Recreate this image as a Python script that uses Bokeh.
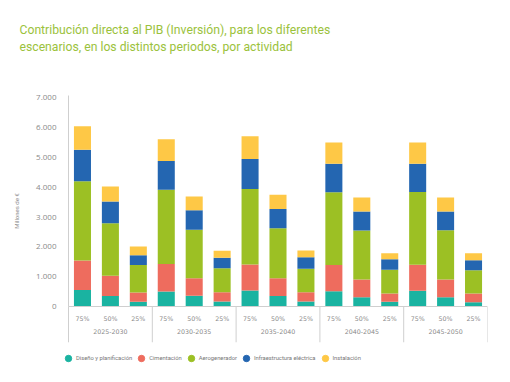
from bokeh.plotting import figure
from bokeh.models import (ColumnDataSource, Range1d, FixedTicker, Legend, LegendItem,
                          Title, LinearAxis)
from bokeh.core.properties import value
from bokeh.embed import file_html
from bokeh.resources import INLINE

# ---------------- data ----------------
periods = ["2025-2030", "2030-2035", "2035-2040", "2040-2045", "2045-2050"]
scenarios = ["75%", "50%", "25%"]
activities = ["Diseño y planificación", "Cimentación", "Aerogenerador",
              "Infraestructura eléctrica", "Instalación"]
colors = ["#1ab3a1", "#ee6c5e", "#9cc024", "#2466b1", "#fec846"]

diseno = [550, 350, 160, 500, 360, 170, 540, 350, 170, 510, 310, 160, 530, 310, 140]
cimentacion = [990, 680, 310, 930, 590, 310, 870, 600, 310, 880, 600, 280, 870, 600, 300]
aerogenerador = [2660, 1760, 920, 2490, 1630, 800, 2530, 1680, 790, 2440, 1640, 790, 2440, 1650, 780]
infraestructura = [1060, 730, 330, 960, 650, 360, 1010, 640, 380, 960, 640, 360, 950, 630, 330]
instalacion = [790, 510, 290, 730, 460, 230, 760, 480, 230, 710, 470, 200, 710, 470, 240]

y_ticks = [0, 1000, 2000, 3000, 4000, 5000, 6000, 7000]
y_tick_labels = ["0", "1.000", "2.000", "3.000", "4.000", "5.000", "6.000", "7.000"]

title_lines = ["Contribución directa al PIB (Inversión), para los diferentes",
               "escenarios, en los distintos periodos, por actividad"]
y_title = "Millones de €"

# ---------------- figure ----------------
n_sc = len(scenarios)
n_bars = len(periods) * n_sc
keys = ["diseno", "cimentacion", "aerogenerador", "infraestructura", "instalacion"]
source = ColumnDataSource(dict(
    x=[i + 0.5 for i in range(n_bars)],
    diseno=diseno, cimentacion=cimentacion, aerogenerador=aerogenerador,
    infraestructura=infraestructura, instalacion=instalacion,
))

FONT = "Roboto"
GRAY = "#8a8a8a"
LINE = "#cfcfcf"

W, H = 494, 366
BL, BR, BT = 58, 7, 55
px_per_unit = (W - 68 - BR) / n_bars          # bar slots start 10px right of the frame edge
x_start = -10 / px_per_unit

p = figure(width=W, height=H, output_backend="svg", toolbar_location=None,
           x_range=Range1d(x_start, n_bars), y_range=Range1d(-2013, 8423),
           x_axis_type=None, y_axis_type=None,
           min_border_left=BL, min_border_right=BR, min_border_top=BT, min_border_bottom=0)
p.outline_line_color = None
p.background_fill_color = "white"
p.border_fill_color = "white"
p.grid.visible = False

# titles (first added is closest to plot)
for line, so in zip(reversed(title_lines), [3, 0]):
    p.add_layout(Title(text=line, align="left", offset=-39, standoff=so,
                       text_font=FONT, text_font_size="12.2px", text_font_style="normal",
                       text_color="#9bc23c"), "above")

yaxis = LinearAxis(ticker=FixedTicker(ticks=y_ticks),
                   major_label_overrides={t: l for t, l in zip(y_ticks, y_tick_labels)},
                   axis_label=y_title)
yaxis.axis_line_color = None
yaxis.major_tick_line_color = None
yaxis.minor_tick_line_color = None
yaxis.major_tick_out = 0
yaxis.major_tick_in = 0
yaxis.major_label_standoff = 2
yaxis.major_label_text_font = "Open Sans"
yaxis.major_label_text_font_size = "8px"
yaxis.major_label_text_color = GRAY
yaxis.axis_label_text_font = FONT
yaxis.axis_label_text_font_size = "6px"
yaxis.axis_label_text_font_style = "normal"
yaxis.axis_label_text_color = GRAY
yaxis.axis_label_standoff = 13
p.add_layout(yaxis, "left")

# bars
renderers = p.vbar_stack(keys, x="x", width=0.61, color=colors, line_color=None, source=source)

# axis lines / separators
sep_x = [g * n_sc for g in range(len(periods) + 1)]
p.segment(x0=[0], y0=[0], x1=[n_bars], y1=[0], line_color=LINE, line_width=1)
p.segment(x0=sep_x, y0=[0] * len(sep_x), x1=sep_x, y1=[-1200] * len(sep_x),
          line_color=LINE, line_width=1)
p.segment(x0=[0], y0=[0], x1=[0], y1=[7080], line_color=LINE, line_width=1)

# category labels
p.text(x=[i + 0.5 for i in range(n_bars)], y=[-400] * n_bars,
       text=[scenarios[i % n_sc] for i in range(n_bars)],
       text_align="center", text_baseline="middle", text_font=value("DejaVu Sans"),
       text_font_size="6.3px", text_color=GRAY)
p.text(x=[g * n_sc + n_sc / 2 for g in range(len(periods))], y=[-840] * len(periods),
       text=periods, text_align="center", text_baseline="middle",
       text_font=value("DejaVu Sans"), text_font_size="6.3px", text_color=GRAY)

# legend with circle markers (dummy points far outside the view)
items = []
for name, c in zip(activities, colors):
    r = p.scatter(x=[-100], y=[-100000], marker="circle", size=7, color=c, line_color=c)
    items.append(LegendItem(label=name, renderers=[r]))
legend = Legend(items=items, orientation="horizontal", location=(2, 0),
                glyph_width=16, glyph_height=16, label_standoff=0, spacing=1,
                padding=0, margin=0, border_line_color=None, background_fill_alpha=0,
                label_text_font=FONT, label_text_font_size="5.8px", label_text_color="#777777",
                label_height=16)
p.add_layout(legend)

open("out.html", "w").write(file_html(p, INLINE))
